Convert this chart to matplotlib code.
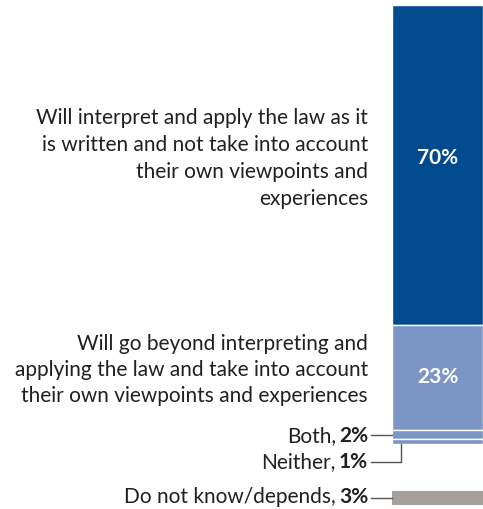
import matplotlib
matplotlib.use("Agg")
import matplotlib.pyplot as plt

# data
labels = [
    "Will interpret and apply the law as it\nis written and not take into account\ntheir own viewpoints and\nexperiences",
    "Will go beyond interpreting and\napplying the law and take into account\ntheir own viewpoints and experiences",
    "Both,",
    "Neither,",
]
values = [70, 23, 2, 1]
colors = ["#004a8f", "#7b95c5", "#7b95c5", "#7b95c5"]
dk_label = "Do not know/depends,"
dk_value = 3
dk_color = "#a6a09d"

plt.rcParams['font.family'] = ['Lato', 'DejaVu Sans']
fs = 15
txt_col = "#231f20"
line_col = "#555555"

fig = plt.figure(figsize=(4.83, 5.10), dpi=100)
ax = fig.add_axes([0, 0, 1, 1])
ax.set_xlim(0, 483)
ax.set_ylim(110.28, -1.313)
ax.axis("off")

bar_x = 392
bar_w = 91
lab_x = 368

bottom = 0
mids = []
for v, c in zip(values, colors):
    ax.bar(bar_x, v, bottom=bottom, width=bar_w, align="edge", color=c,
           edgecolor="white", linewidth=1.0)
    mids.append(bottom + v / 2)
    bottom += v
total = bottom

# grey bar below the stack
dk_bottom = total + 10.3
ax.bar(bar_x, dk_value, bottom=dk_bottom, width=bar_w, align="edge",
       color=dk_color, linewidth=0)
dk_mid = dk_bottom + dk_value / 2

# value labels inside the big segments
for i in range(2):
    ax.text(bar_x + bar_w / 2, mids[i] - 1.5 * (i == 0) - 0.3, f"{values[i]}%",
            color="white", fontsize=fs, fontweight="bold", ha="center", va="center")

# big text labels
ax.text(lab_x, mids[0] - 1.7, labels[0], ha="right", va="center", fontsize=fs,
        color=txt_col, linespacing=1.43)
ax.text(lab_x, mids[1] - 1.8, labels[1], ha="right", va="center", fontsize=fs,
        color=txt_col, linespacing=1.36)


def small_label(y, name, val):
    t = ax.text(lab_x, y, f"{val}%", ha="right", va="center", fontsize=fs,
                fontweight="bold", color=txt_col)
    fig.canvas.draw()
    bb = t.get_window_extent()
    x0 = ax.transData.inverted().transform((bb.x0, 0))[0]
    ax.text(x0 - 3, y, name, ha="right", va="center", fontsize=fs, color=txt_col)


both_y = mids[2]
small_label(both_y, labels[2], values[2])
ax.plot([lab_x + 3, bar_x], [both_y, both_y], color=line_col, lw=1)

nei_y = total + 4.0
small_label(nei_y - 0.3, labels[3], values[3])
ax.plot([lab_x + 3, bar_x + 9, bar_x + 9], [nei_y, nei_y, total],
        color=line_col, lw=1)

small_label(dk_mid - 0.3, dk_label, dk_value)
ax.plot([lab_x + 3, bar_x], [dk_mid, dk_mid], color=line_col, lw=1)

fig.savefig("out.png", dpi=100)
